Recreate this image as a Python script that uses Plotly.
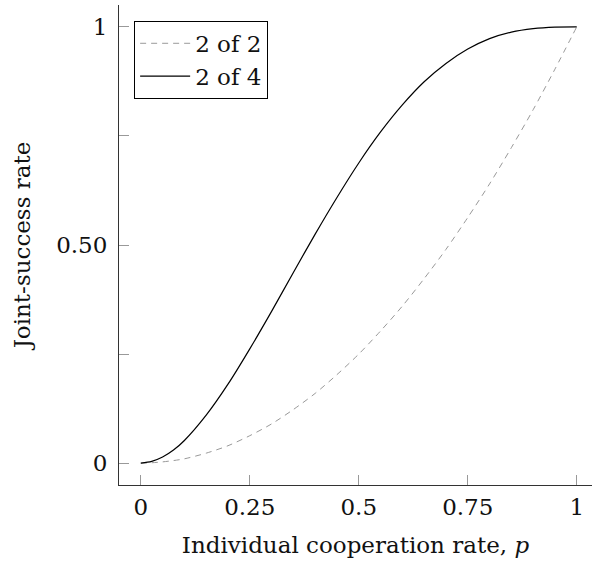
import plotly.graph_objects as go

p_values = [0.0, 0.025, 0.05, 0.075, 0.10, 0.15, 0.20, 0.25, 0.30, 0.35, 0.40, 0.45, 0.50,
            0.55, 0.60, 0.65, 0.70, 0.75, 0.80, 0.85, 0.90, 0.95, 1.0]
two_of_two = [0.0, 0.001, 0.003, 0.006, 0.010, 0.023, 0.040, 0.063, 0.090, 0.123, 0.160, 0.203, 0.250,
              0.303, 0.360, 0.423, 0.490, 0.563, 0.640, 0.723, 0.810, 0.903, 1.0]
two_of_four = [0.0, 0.004, 0.014, 0.030, 0.052, 0.110, 0.181, 0.262, 0.348, 0.437, 0.525, 0.609, 0.688,
               0.759, 0.821, 0.874, 0.916, 0.949, 0.973, 0.988, 0.996, 0.9995, 1.0]

x_tick_vals = [0, 0.25, 0.5, 0.75, 1]
x_tick_text = ["0", "0.25", "0.5", "0.75", "1"]
y_tick_vals = [0, 0.25, 0.5, 0.75, 1]
y_tick_text = ["0", "", "0.50", "", "1"]

FONT = "DejaVu Serif"
FS = 23

fig = go.Figure()
fig.add_trace(go.Scatter(x=p_values, y=two_of_two, mode="lines", name="2 of 2",
                         line=dict(color="#999999", width=1, dash="6px,5px", shape="spline", smoothing=0.8)))
fig.add_trace(go.Scatter(x=p_values, y=two_of_four, mode="lines", name="2 of 4",
                         line=dict(color="#000000", width=1.2, shape="spline", smoothing=0.8)))

fig.update_layout(
    width=592, height=567,
    margin=dict(l=119, r=0, t=5, b=82),
    paper_bgcolor="white", plot_bgcolor="white",
    font=dict(family=FONT, size=FS, color="#111111"),
    showlegend=True,
    legend=dict(x=0.032, y=0.967, xanchor="left", yanchor="top",
                bordercolor="#000000", borderwidth=1, bgcolor="white",
                font=dict(family=FONT, size=FS), tracegroupgap=0, itemwidth=50),
    xaxis=dict(range=[-0.05, 1.035], showline=True, linecolor="#333333", linewidth=1,
               showgrid=False, zeroline=False, ticks="inside", ticklen=10,
               tickcolor="#999999", tickwidth=1, automargin=True,
               tickvals=x_tick_vals, ticktext=x_tick_text, ticklabelstandoff=1,
               title=dict(text="Individual cooperation rate, <i>p</i>", standoff=18,
                          font=dict(family=FONT, size=FS))),
    yaxis=dict(range=[-0.05, 1.05], showline=True, linecolor="#333333", linewidth=1,
               showgrid=False, zeroline=False, ticks="inside", ticklen=10,
               tickcolor="#999999", tickwidth=1, automargin=True,
               tickvals=y_tick_vals, ticktext=y_tick_text, ticklabelstandoff=6,
               title=dict(text="Joint-success rate", standoff=19,
                          font=dict(family=FONT, size=FS))),
)

fig.write_html("out.html")
